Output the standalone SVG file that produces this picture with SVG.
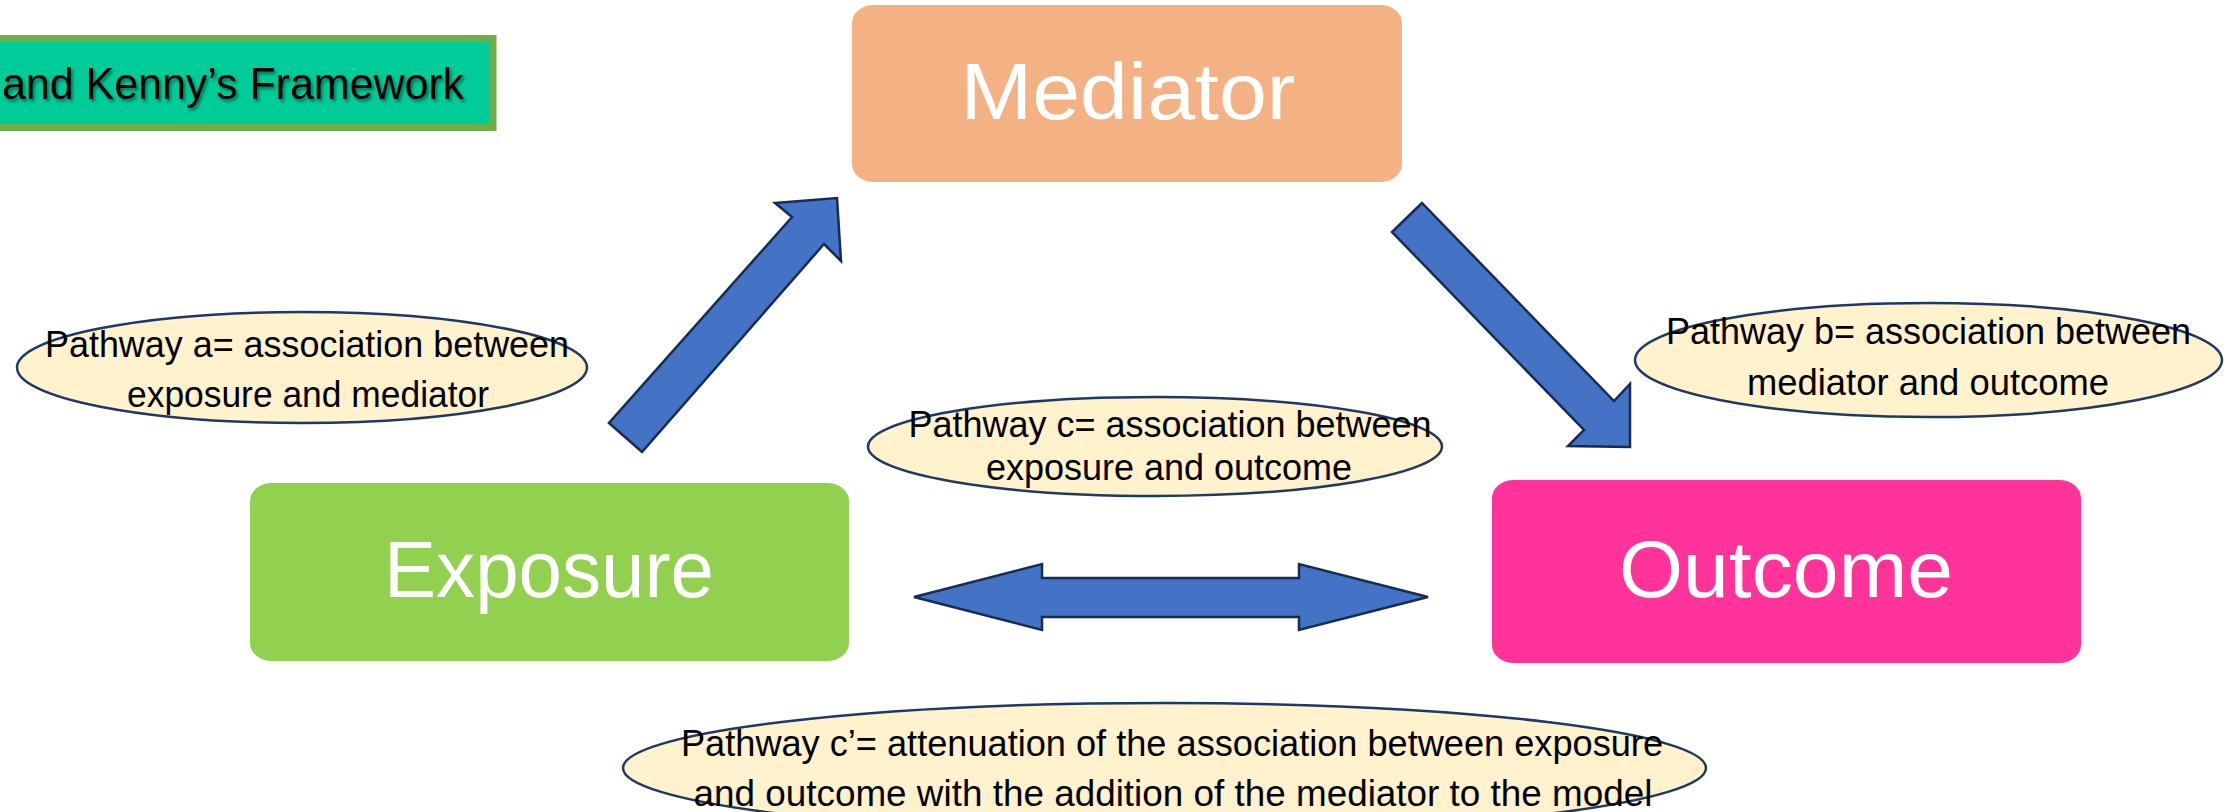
<svg xmlns="http://www.w3.org/2000/svg" width="2227" height="812" viewBox="0 0 2227 812">
  <defs>
    <style>
      .box-label { font-family: "Liberation Sans", Arial, sans-serif; font-size: 79px; fill: #FFFFFF; text-anchor: middle; }
      .ell { fill: #FFF2CC; stroke: #1F3864; stroke-width: 2.5; }
      .ell-text { font-family: "Liberation Sans", Arial, sans-serif; font-size: 37px; fill: #000000; text-anchor: middle; }
      .arrow { fill: #4472C4; stroke: #172C51; stroke-width: 2.5; stroke-linejoin: miter; }
      .title-text { font-family: "Liberation Sans", Arial, sans-serif; font-size: 44px; fill: #000000; text-anchor: end; }
    </style>
    <filter id="shadow" x="-5%" y="-20%" width="110%" height="150%">
      <feDropShadow dx="2" dy="2.5" stdDeviation="1.5" flood-color="#000000" flood-opacity="0.45"/>
    </filter>
  </defs>
  <rect x="0" y="0" width="2227" height="812" fill="#FFFFFF"/>

  <g id="title">
    <rect x="-10" y="38.5" width="503" height="89" fill="#00CC99" stroke="#70AD47" stroke-width="7"/>
    <text class="title-text" x="464" y="99" textLength="462" lengthAdjust="spacingAndGlyphs" filter="url(#shadow)">and Kenny’s Framework</text>
  </g>

  <g id="connectors">
    <polygon id="arrow-a" class="arrow" points="609,423 642,452 824,244 841,261 837,198 775,203 792,217"/>
    <polygon id="arrow-b" class="arrow" points="1422,203 1392,232 1584,430 1568,446 1630,447 1630,384 1614,401"/>
    <polygon id="arrow-c" class="arrow" points="914,597 1042,564 1042,578 1299,578 1299,564 1428,597 1299,630 1299,617 1042,617 1042,630"/>
  </g>

  <g id="mediator">
    <rect x="852" y="5" width="550" height="177" rx="22" ry="18" fill="#F4B183"/>
    <text class="box-label" x="1128" y="119" textLength="335" lengthAdjust="spacingAndGlyphs">Mediator</text>
  </g>

  <g id="exposure">
    <rect x="250" y="483" width="599" height="178" rx="22" ry="18" fill="#92D050"/>
    <text class="box-label" x="549" y="597" textLength="330" lengthAdjust="spacingAndGlyphs">Exposure</text>
  </g>

  <g id="outcome">
    <rect x="1492" y="480" width="589" height="183" rx="22" ry="18" fill="#FF3399"/>
    <text class="box-label" x="1786" y="597" textLength="334" lengthAdjust="spacingAndGlyphs">Outcome</text>
  </g>

  <g id="pathway-a">
    <ellipse class="ell" cx="302" cy="367.5" rx="285" ry="55.5"/>
    <text class="ell-text" x="307" y="357" textLength="524" lengthAdjust="spacingAndGlyphs">Pathway a= association between</text>
    <text class="ell-text" x="308" y="407" textLength="362" lengthAdjust="spacingAndGlyphs">exposure and mediator</text>
  </g>

  <g id="pathway-b">
    <ellipse class="ell" cx="1928.5" cy="360" rx="293.5" ry="57"/>
    <text class="ell-text" x="1928.5" y="344" textLength="525" lengthAdjust="spacingAndGlyphs">Pathway b= association between</text>
    <text class="ell-text" x="1928" y="395" textLength="362" lengthAdjust="spacingAndGlyphs">mediator and outcome</text>
  </g>

  <g id="pathway-c">
    <ellipse class="ell" cx="1155" cy="446.5" rx="287" ry="49.5"/>
    <text class="ell-text" x="1170" y="437" textLength="523" lengthAdjust="spacingAndGlyphs">Pathway c= association between</text>
    <text class="ell-text" x="1169" y="480" textLength="366" lengthAdjust="spacingAndGlyphs">exposure and outcome</text>
  </g>

  <g id="pathway-c-prime">
    <ellipse class="ell" cx="1164.5" cy="768" rx="541.5" ry="65"/>
    <text class="ell-text" x="1172" y="756" textLength="982" lengthAdjust="spacingAndGlyphs">Pathway c’= attenuation of the association between exposure</text>
    <text class="ell-text" x="1173" y="806" textLength="959" lengthAdjust="spacingAndGlyphs">and outcome with the addition of the mediator to the model</text>
  </g>
</svg>
